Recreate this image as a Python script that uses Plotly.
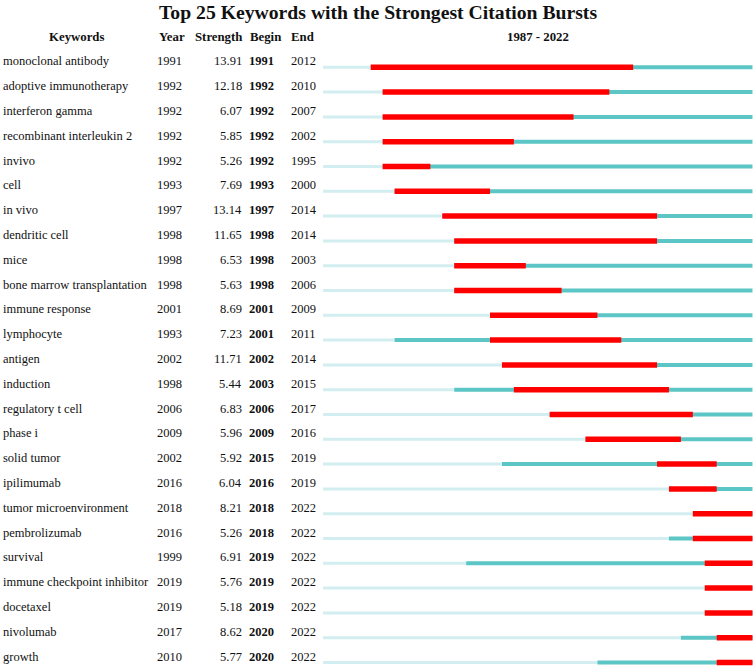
import plotly.graph_objects as go

keywords = ["monoclonal antibody", "adoptive immunotherapy", "interferon gamma",
            "recombinant interleukin 2", "invivo", "cell", "in vivo", "dendritic cell",
            "mice", "bone marrow transplantation", "immune response", "lymphocyte",
            "antigen", "induction", "regulatory t cell", "phase i", "solid tumor",
            "ipilimumab", "tumor microenvironment", "pembrolizumab", "survival",
            "immune checkpoint inhibitor", "docetaxel", "nivolumab", "growth"]
years = [1991, 1992, 1992, 1992, 1992, 1993, 1997, 1998, 1998, 1998, 2001, 1993, 2002,
         1998, 2006, 2009, 2002, 2016, 2018, 2016, 1999, 2019, 2019, 2017, 2010]
strengths = [13.91, 12.18, 6.07, 5.85, 5.26, 7.69, 13.14, 11.65, 6.53, 5.63, 8.69, 7.23,
             11.71, 5.44, 6.83, 5.96, 5.92, 6.04, 8.21, 5.26, 6.91, 5.76, 5.18, 8.62, 5.77]
begins = [1991, 1992, 1992, 1992, 1992, 1993, 1997, 1998, 1998, 1998, 2001, 2001, 2002,
          2003, 2006, 2009, 2015, 2016, 2018, 2018, 2019, 2019, 2019, 2020, 2020]
ends = [2012, 2010, 2007, 2002, 1995, 2000, 2014, 2014, 2003, 2006, 2009, 2011, 2014,
        2015, 2017, 2016, 2019, 2019, 2022, 2022, 2022, 2022, 2022, 2022, 2022]
first_year = 1987
last_year = 2022

W, H = 756, 666
# pixel geometry of the timeline
px0, px_per_year = 323.0, 11.93
row0_px, row_px = 67.3, 24.8

x_lo = first_year - px0 / px_per_year
x_hi = x_lo + W / px_per_year
y_top = -row0_px / row_px
y_bot = (H - row0_px) / row_px

LIGHT = "#d3eef0"
TEAL = "#5cc6c6"
RED = "#ff0000"

def seg_trace(starts, stops, color, width):
    xs, ys = [], []
    for i, (a, b) in enumerate(zip(starts, stops)):
        if b > a:
            xs += [a, b, None]
            ys += [i, i, None]
    return go.Scatter(x=xs, y=ys, mode="lines", line=dict(color=color, width=width),
                      hoverinfo="skip", showlegend=False)

n = len(keywords)
fig = go.Figure()
fig.add_trace(seg_trace([first_year] * n, years, LIGHT, 3))
fig.add_trace(seg_trace(years, [last_year + 1] * n, TEAL, 4))
fig.add_trace(seg_trace(begins, [e + 1 for e in ends], RED, 5.5))

FONT = "Liberation Serif, Times New Roman, serif"
ann = []

def px(p):
    return p / W

for i in range(n):
    common = dict(yref="y", y=i, yshift=6, showarrow=False, xref="paper",
                  yanchor="middle",
                  font=dict(family=FONT, size=12.5, color="#111"), borderpad=0)
    ann.append(dict(text=keywords[i], x=px(2), xanchor="left", **common))
    ann.append(dict(text=str(years[i]), x=px(156), xanchor="left", **common))
    ann.append(dict(text=f"{strengths[i]:.2f}", x=px(243), xanchor="right", **common))
    ann.append(dict(text=f"<b>{begins[i]}</b>", x=px(248), xanchor="left", **common))
    ann.append(dict(text=str(ends[i]), x=px(290), xanchor="left", **common))

hy = 1 - 37 / H
hcommon = dict(yref="paper", y=hy, yanchor="middle", showarrow=False, xref="paper",
               xanchor="center", font=dict(family=FONT, size=12.8, color="#111"),
               borderpad=0)
for label, cx in [("Keywords", 76), ("Year", 171.5), ("Strength", 218),
                  ("Begin", 265.5), ("End", 302.5),
                  (f"{first_year} - {last_year}", 538)]:
    ann.append(dict(text=f"<b>{label}</b>", x=px(cx), **hcommon))

ann.append(dict(text="<b>Top 25 Keywords with the Strongest Citation Bursts</b>",
                xref="paper", yref="paper", x=px(378), y=1 - 12 / H, yanchor="middle",
                showarrow=False, xanchor="center",
                font=dict(family=FONT, size=19.7, color="#111")))

fig.update_layout(
    width=W, height=H,
    margin=dict(l=0, r=0, t=0, b=0),
    plot_bgcolor="white", paper_bgcolor="white",
    xaxis=dict(range=[x_lo, x_hi], visible=False, showgrid=False, zeroline=False),
    yaxis=dict(range=[y_bot, y_top], visible=False, showgrid=False, zeroline=False),
    annotations=ann,
)

fig.write_html(
    "out.html",
    config={"displayModeBar": False},
    post_script="document.body.style.margin='0';document.body.style.overflow='hidden';",
)
